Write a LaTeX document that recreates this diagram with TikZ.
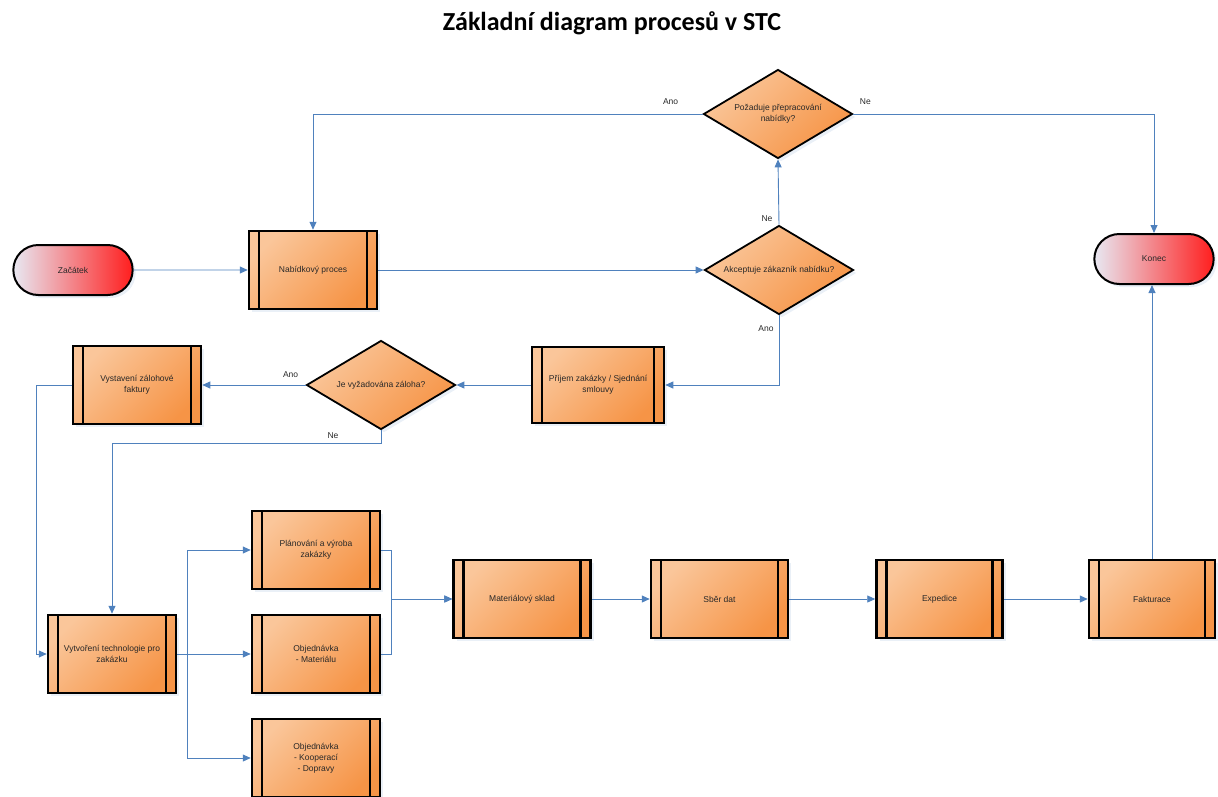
\documentclass[tikz,border=0pt]{standalone}
\usepackage{fontspec}
\setmainfont{Liberation Sans}
\newfontfamily\titlefont{Carlito}
\usetikzlibrary{shapes.geometric, shapes.misc, arrows.meta, positioning, shadows}
\definecolor{boxlight}{RGB}{250,198,154}
\definecolor{boxdark}{RGB}{246,148,70}
\definecolor{termlight}{RGB}{232,232,242}
\definecolor{termred}{RGB}{255,30,30}
\definecolor{flowblue}{RGB}{79,129,189}
\definecolor{txtgray}{RGB}{40,40,40}
\tikzset{
x=1pt, y=-1pt, % pixel-like coordinates, y grows downwards
>={Triangle[length=8pt, width=7pt]}, % filled arrow heads
every node/.style={font=\fontsize{8.5}{11}\selectfont, text=txtgray, align=center}, % text inside the shapes
boxshadow/.style={drop shadow={shadow xshift=3pt, shadow yshift=-3pt, fill=flowblue!30, opacity=0.4}}, % soft shadow
process/.style={rectangle, draw=black, line width=2.5pt, minimum width=128pt, minimum height=78pt, inner sep=2pt,
  top color=boxlight, bottom color=boxdark, shading angle=45, boxshadow,
  path picture={
    \draw[line width=2.5pt] ([xshift=10pt]path picture bounding box.north west) -- ([xshift=10pt]path picture bounding box.south west);
    \draw[line width=2.5pt] ([xshift=-10pt]path picture bounding box.north east) -- ([xshift=-10pt]path picture bounding box.south east);
  }}, % predefined process with side bars
decision/.style={diamond, aspect=1.67, draw=black, line width=1.8pt, minimum width=149pt, minimum height=89pt, inner sep=0pt,
  top color=boxlight, bottom color=boxdark, shading angle=45, boxshadow}, % yes/no question
terminal/.style={rounded rectangle, draw=black, line width=2pt, minimum width=126pt, minimum height=50pt,
  left color=termlight, right color=termred, boxshadow}, % start and end
flow/.style={draw=flowblue, line width=0.9pt, ->}, % connectors
answer/.style={inner sep=0pt} % Ano / Ne
}

\begin{document}
\begin{tikzpicture}
  \useasboundingbox (0,0) rectangle (1218,796);
  \node[font=\titlefont\bfseries\fontsize{26}{30}\selectfont, text=black, anchor=base] (title) at (612,30) {Základní diagram procesů v STC};

  \node[terminal] (zacatek) at (73,270) {Začátek};
  \node[process] (nabidka) at (313,270) {Nabídkový proces};
  \node[decision] (akceptuje) at (779,270) {Akceptuje zákazník nabídku?};
  \node[decision] (pozaduje) at (778,114) {Požaduje přepracování\\nabídky?};
  \node[terminal] (konec) at (1154,259) {Konec};
  \node[process, minimum width=132pt, minimum height=76pt] (prijem) at (598,385) {Příjem zakázky / Sjednání\\smlouvy};
  \node[decision] (zaloha) at (381,385) {Je vyžadována záloha?};
  \node[process] (faktura) at (137,385) {Vystavení zálohové\\faktury};
  \node[process] (technologie) at (112,654) {Vytvoření technologie pro\\zakázku};
  \node[process] (vyroba) at (316,550) {Plánování a výroba\\zakázky};
  \node[process] (material) at (316,654) {Objednávka\\- Materiálu};
  \node[process] (kooperace) at (316,758) {Objednávka\\- Kooperací\\- Dopravy};
  \node[process, minimum width=137pt] (sklad) at (522,599) {Materiálový sklad};
  \node[process, minimum width=137pt, right=58pt of sklad] (sber) {Sběr dat};
  \node[process, minimum width=126pt, right=86pt of sber] (expedice) {Expedice};
  \node[process, minimum width=126pt, right=84pt of expedice] (fakturace) {Fakturace};

  \draw[flow] (zacatek) -- (nabidka);
  \draw[flow] (nabidka) -- (akceptuje);
  \draw[flow] (akceptuje.north) node[answer, xshift=-12pt, yshift=6pt]{Ne} -- (pozaduje.south);
  \draw[flow] (pozaduje.west) node[answer, xshift=-32pt, yshift=12pt]{Ano} -| (nabidka.north);
  \draw[flow] (pozaduje.east) node[answer, xshift=12pt, yshift=12pt]{Ne} -| (konec.north);
  \draw[flow] (akceptuje.south) node[answer, xshift=-13pt, yshift=-13pt]{Ano} |- (prijem.east);
  \draw[flow] (prijem) -- (zaloha);
  \draw[flow] (zaloha.west) node[answer, xshift=-15pt, yshift=10pt]{Ano} -- (faktura.east);
  \draw[flow] (zaloha.south) node[answer, xshift=-48pt, yshift=-5pt]{Ne} -- ++(0,13) -| (technologie.north);
  \draw[flow] (faktura.west) -- ++(-35,0) |- (technologie.west);
  \draw[flow] (technologie.east) -- ++(10,0) |- (vyroba.west);
  \draw[flow] (technologie.east) -- (material.west);
  \draw[flow] (technologie.east) -- ++(10,0) |- (kooperace.west);
  \draw[flow] (vyroba.east) -- ++(10,0) |- (sklad.west);
  \draw[flow] (material.east) -- ++(10,0) |- (sklad.west);
  \draw[flow] (sklad) -- (sber);
  \draw[flow] (sber) -- (expedice);
  \draw[flow] (expedice) -- (fakturace);
  \draw[flow] (fakturace.north) -- (fakturace.north |- konec.south);
\end{tikzpicture}
\end{document}
